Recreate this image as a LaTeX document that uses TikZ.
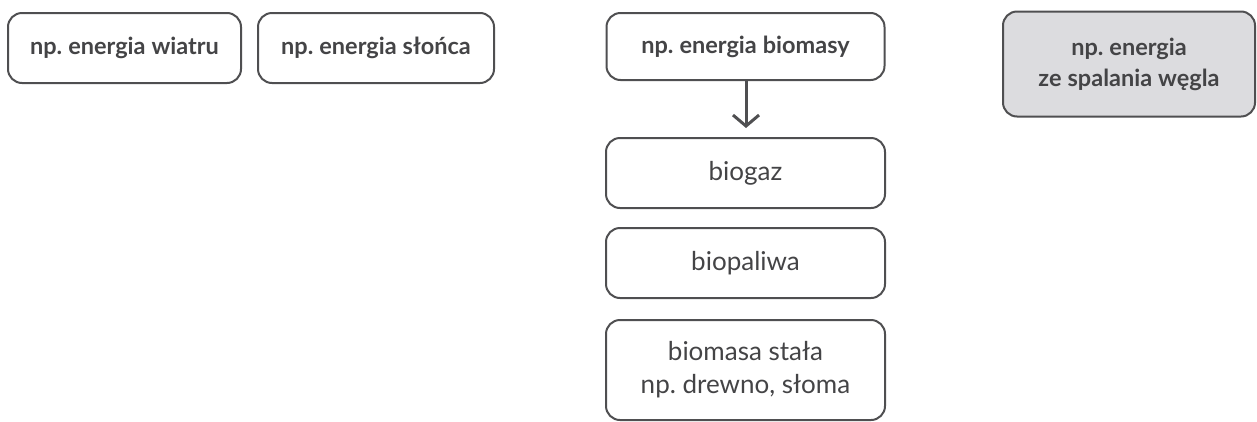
\documentclass[tikz,border=0pt]{standalone}
\usepackage{fontspec}
\setmainfont{Lato}
\usetikzlibrary{arrows.meta}
\definecolor{lineg}{HTML}{4F4F51}
\definecolor{textg}{HTML}{444446}
\definecolor{fillg}{HTML}{DCDCDF}
\newcommand\mytightspace{\spaceskip=6pt plus 1pt minus 1pt\relax}
\frenchspacing
\tikzset{
  box/.style={draw=lineg, line width=2pt, rounded corners=14pt, text=textg, align=center, inner sep=0pt, font=\fontsize{26}{33}\selectfont},
  topbox/.style={box, font=\fontsize{23.5}{31}\selectfont\bfseries\mytightspace},
  conn/.style={draw=lineg, line width=3pt, -{Straight Barb[length=11pt,width=26pt,line width=3pt]}}
}
\begin{document}
\begin{tikzpicture}[x=1pt,y=-1pt]
\useasboundingbox (0,0) rectangle (1257,421);
\node[topbox, minimum width=233pt, minimum height=70pt] (wiatr) at (124.5,48) {np. energia wiatru};
\node[topbox, minimum width=236pt, minimum height=70pt] (slonce) at (376,48) {np. energia słońca};
\node[topbox, minimum width=278pt, minimum height=67pt] (biomasa) at (745.5,46.5) {np. energia biomasy};
\node[topbox, fill=fillg, minimum width=252pt, minimum height=105pt] (wegiel) at (1129,64) {np. energia\\ze spalania węgla};
\node[box, minimum width=279pt, minimum height=70pt] (biogaz) at (745.5,173) {biogaz};
\node[box, minimum width=279pt, minimum height=70pt] (biopaliwa) at (745.5,263) {biopaliwa};
\node[box, minimum width=279pt, minimum height=100pt] (stala) at (745.5,370) {biomasa stała\\np. drewno, słoma};
\coordinate (arrEnd) at (746,128);
\draw[conn] (biomasa.south -| arrEnd) -- (arrEnd);
\end{tikzpicture}
\end{document}
